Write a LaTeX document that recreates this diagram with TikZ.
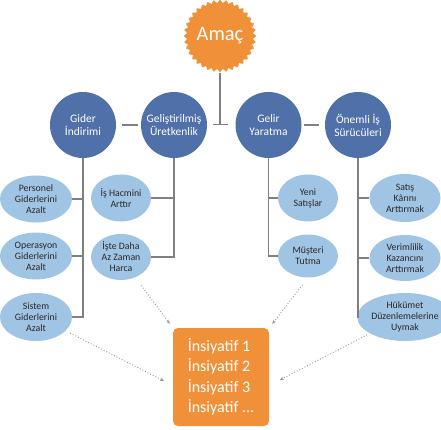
\documentclass[tikz,border=0pt]{standalone}
\usepackage{fontspec}
\setmainfont{Carlito}
\usetikzlibrary{shapes.geometric,arrows.meta}
\definecolor{circblue}{RGB}{79,112,168}
\definecolor{elblue}{RGB}{160,196,228}
\definecolor{orng}{RGB}{240,145,58}
\definecolor{lngray}{RGB}{128,128,128}
\definecolor{dotgray}{RGB}{150,150,150}
\definecolor{eltext}{RGB}{40,40,40}
\begin{document}
\begin{tikzpicture}[x=1pt,y=-1pt,
 topc/.style={circle,fill=circblue,minimum size=66pt,inner sep=0pt,text=white,font=\fontsize{11.5}{13}\selectfont,align=center},
 subel/.style={ellipse,fill=elblue,inner sep=0pt,text=eltext,font=\fontsize{9.8}{11}\selectfont,align=center},
 conn/.style={draw=lngray,line width=1.4pt},
 dotarr/.style={draw=dotgray,dotted,line width=0.9pt,-{Stealth[length=4pt,width=3.5pt]}}]
\useasboundingbox (0,0) rectangle (441,430);

% goal
\node[star,star points=36,star point ratio=1.1,fill=orng,minimum size=69pt,inner sep=0pt,text=white,font=\fontsize{20.5}{22}\selectfont] (amac) at (220,36) {Amaç};

% top circles
\node[topc] (gider) at (83,125) {Gider\\İndirimi};
\node[topc] (gelis) at (174,125) {Geliştirilmiş\\Üretkenlik};
\node[topc] (gelir) at (268.5,125) {Gelir\\Yaratma};
\node[topc] (onemli) at (358,125) {Önemli İş\\Sürücüleri};

% sub ellipses
\node[subel,minimum width=72pt,minimum height=47pt] (personel) at (36,199) {Personel\\Giderlerini\\Azalt};
\node[subel,minimum width=72pt,minimum height=47pt] (operasyon) at (36,256) {Operasyon\\Giderlerini\\Azalt};
\node[subel,minimum width=72pt,minimum height=48pt] (sistem) at (36,317) {Sistem\\Giderlerini\\Azalt};
\node[subel,minimum width=60pt,minimum height=47pt] (ishacmi) at (121,198) {İş Hacmini\\Arttır};
\node[subel,minimum width=60pt,minimum height=46pt] (iste) at (121,257) {İşte Daha\\Az Zaman\\Harca};
\node[subel,minimum width=60pt,minimum height=47pt] (yeni) at (308,198) {Yeni\\Satışlar};
\node[subel,minimum width=60pt,minimum height=43pt] (musteri) at (308,256) {Müşteri\\Tutma};
\node[subel,minimum width=71pt,minimum height=48pt] (satis) at (405,198) {Satış\\Kârını\\Arttırmak};
\node[subel,minimum width=71pt,minimum height=46pt] (verim) at (405,258) {Verimlilik\\Kazancını\\Arttırmak};
\node[subel,minimum width=74pt,minimum height=48pt] (hukumet) at (405,317) {Hükümet\\Düzenlemelerine\\Uymak};

% initiatives box
\node[fill=orng,rounded corners=5pt,minimum width=96pt,minimum height=98pt,text=white,font=\fontsize{16}{20.5}\selectfont,align=left] (box) at (221,377) {İnsiyatif 1\\İnsiyatif 2\\İnsiyatif 3\\İnsiyatif ...};

% goal connector with bar end
\coordinate (tb) at (220,125);
\draw[conn,-{Bar[width=15pt]}] (amac) -- (tb);

% links between circles
\draw[conn,shorten <=6pt,shorten >=3pt] (gider) -- (gelis);
\draw[conn,shorten <=2pt,shorten >=6pt] (gelir) -- (onemli);

% trees
\draw[conn] (gider.south) |- (sistem.east);
\draw[conn] (personel.east) -- (personel.east -| gider.south);
\draw[conn] (operasyon.east) -- (operasyon.east -| gider.south);

\draw[conn] (gelis.south) |- (iste.east);
\draw[conn] (ishacmi.east) -- (ishacmi.east -| gelis.south);

\draw[conn] (gelir.south) |- (musteri.west);
\draw[conn] (yeni.west) -- (yeni.west -| gelir.south);

\draw[conn] (onemli.south) |- (hukumet.west);
\draw[conn] (satis.west) -- (satis.west -| onemli.south);
\draw[conn] (verim.west) -- (verim.west -| onemli.south);

% dotted arrows
\draw[dotarr,shorten <=10pt,shorten >=5pt] (iste.-55) -- (box.north west);
\draw[dotarr,shorten <=9pt,shorten >=5pt] (musteri.south) -- (box.north east);
\draw[dotarr,shorten <=5pt,shorten >=10pt] (sistem.-25) -- (box.190);
\draw[dotarr,shorten <=3pt,shorten >=12pt] (hukumet.-155) -- (box.-10);
\end{tikzpicture}
\end{document}
